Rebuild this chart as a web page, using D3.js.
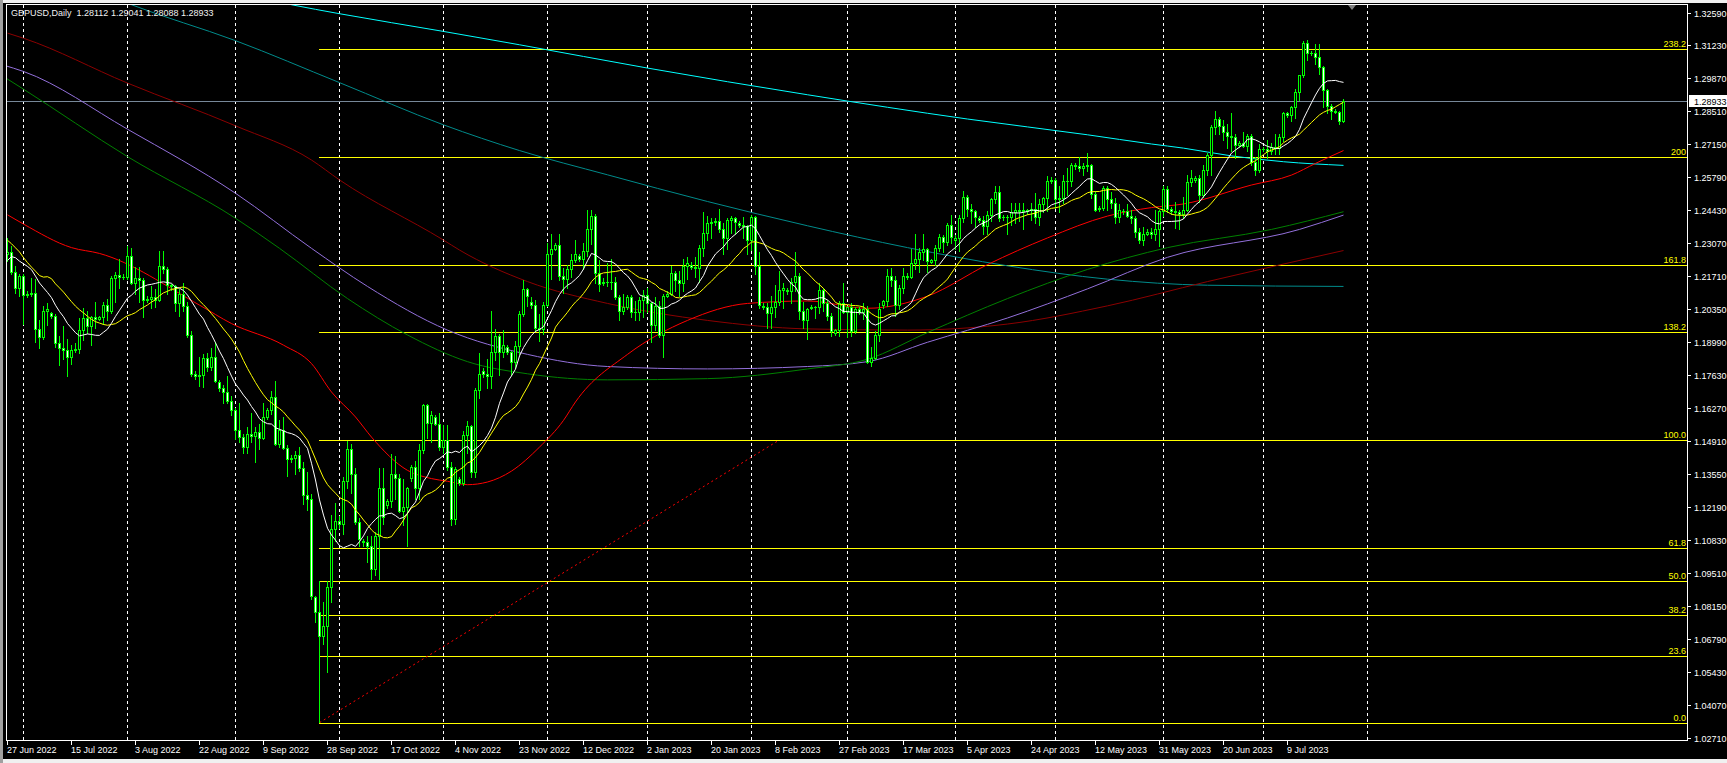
<!DOCTYPE html>
<html><head><meta charset="utf-8">
<script src="https://cdn.jsdelivr.net/npm/d3@7"></script>
<style>body{margin:0;background:#f0f0f0;overflow:hidden}svg{display:block}</style>
</head><body><svg id="c" width="1727" height="763"></svg>
<script>
// ---------------- DATA ----------------
const symbolTitle = "GBPUSD,Daily";
const lastQuote = ["1.28112","1.29041","1.28088","1.28933"];
const currentPrice = 1.28933;
const firstBarDate = "2022-06-27";           // broker has Sunday bars, no Saturday bars
const missingDays = ["2022-12-25","2023-01-01","2023-06-18"];
// daily candles [open, high, low, close]
const ohlc = [
[1.2265,1.2330,1.2235,1.2270],[1.2270,1.2295,1.2180,1.2190],[1.2190,1.2215,1.2105,1.2125],[1.2125,1.2180,1.2090,1.2175],[1.2175,1.2180,1.1975,1.2095],
[1.2095,1.2110,1.2085,1.2100],[1.2100,1.2165,1.2090,1.2105],[1.2105,1.2160,1.1900,1.1955],[1.1955,1.1990,1.1875,1.1920],[1.1920,1.2050,1.1915,1.2028],[1.2028,1.2060,1.1970,1.2035],
[1.2020,1.2025,1.2000,1.2008],[1.2008,1.2015,1.1880,1.1895],[1.1895,1.1925,1.1805,1.1878],[1.1878,1.1965,1.1830,1.1868],[1.1868,1.1915,1.1760,1.1840],[1.1840,1.1890,1.1810,1.1868],
[1.1868,1.1895,1.1860,1.1872],[1.1872,1.2000,1.1855,1.1950],[1.1950,1.2040,1.1910,1.2000],[1.2000,1.2030,1.1940,1.1968],[1.1968,1.2010,1.1887,1.2003],[1.2003,1.2065,1.1960,1.1995],
[1.1995,1.2010,1.1990,1.2002],[1.2002,1.2065,1.1975,1.2052],[1.2052,1.2080,1.1990,1.2030],[1.2030,1.2175,1.2020,1.2163],[1.2163,1.2190,1.2065,1.2177],[1.2177,1.2245,1.2125,1.2168],
[1.2168,1.2180,1.2160,1.2170],[1.2170,1.2295,1.2160,1.2255],[1.2255,1.2290,1.2140,1.2145],[1.2145,1.2210,1.2100,1.2165],[1.2165,1.2210,1.2065,1.2155],[1.2155,1.2165,1.2005,1.2075],
[1.2075,1.2090,1.2065,1.2078],[1.2078,1.2130,1.2040,1.2085],[1.2085,1.2120,1.2045,1.2075],[1.2075,1.2278,1.2070,1.2215],[1.2215,1.2275,1.2185,1.2200],[1.2200,1.2210,1.2100,1.2135],
[1.2135,1.2140,1.2115,1.2132],[1.2132,1.2135,1.2030,1.2060],[1.2060,1.2120,1.2010,1.2097],[1.2097,1.2145,1.2030,1.2050],[1.2050,1.2065,1.1920,1.1930],[1.1930,1.1945,1.1760,1.1768],
[1.1768,1.1780,1.1750,1.1760],[1.1760,1.1840,1.1720,1.1765],[1.1765,1.1850,1.1715,1.1835],[1.1835,1.1855,1.1780,1.1800],[1.1800,1.1875,1.1785,1.1840],[1.1840,1.1900,1.1735,1.1740],
[1.1735,1.1745,1.1700,1.1712],[1.1712,1.1725,1.1650,1.1695],[1.1695,1.1760,1.1650,1.1658],[1.1658,1.1680,1.1600,1.1622],[1.1622,1.1630,1.1500,1.1538],[1.1538,1.1648,1.1490,1.1510],
[1.1510,1.1520,1.1445,1.1470],[1.1470,1.1550,1.1445,1.1520],[1.1520,1.1610,1.1490,1.1515],[1.1515,1.1550,1.1405,1.1530],[1.1530,1.1565,1.1460,1.1505],[1.1505,1.1650,1.1500,1.1590],
[1.1590,1.1630,1.1585,1.1620],[1.1620,1.1700,1.1605,1.1675],[1.1675,1.1740,1.1475,1.1480],[1.1480,1.1580,1.1470,1.1540],[1.1540,1.1590,1.1460,1.1465],[1.1465,1.1475,1.1350,1.1420],
[1.1420,1.1435,1.1405,1.1422],[1.1422,1.1450,1.1355,1.1435],[1.1435,1.1470,1.1370,1.1380],[1.1380,1.1405,1.1235,1.1270],[1.1270,1.1365,1.1210,1.1255],[1.1255,1.1275,1.0840,1.0855],
[1.0850,1.0855,1.0745,1.0790],[1.0790,1.0918,1.0333,1.0690],[1.0690,1.0830,1.0658,1.0730],[1.0730,1.0918,1.0540,1.0890],[1.0890,1.1190,1.0830,1.1130],[1.1130,1.1236,1.1080,1.1165],
[1.1165,1.1185,1.1135,1.1150],[1.1150,1.1345,1.1110,1.1330],[1.1330,1.1495,1.1300,1.1460],[1.1460,1.1480,1.1280,1.1355],[1.1355,1.1380,1.1150,1.1160],[1.1160,1.1175,1.1060,1.1090],
[1.1080,1.1090,1.1060,1.1075],[1.1075,1.1100,1.0995,1.1060],[1.1060,1.1100,1.0925,1.0965],[1.0965,1.1120,1.0940,1.1100],[1.1100,1.1380,1.0925,1.1300],[1.1300,1.1380,1.1150,1.1180],
[1.1230,1.1255,1.1215,1.1245],[1.1245,1.1440,1.1220,1.1355],[1.1355,1.1430,1.1255,1.1342],[1.1342,1.1355,1.1200,1.1205],[1.1205,1.1335,1.1145,1.1220],[1.1220,1.1305,1.1060,1.1298],
[1.1340,1.1395,1.1330,1.1385],[1.1385,1.1410,1.1255,1.1300],[1.1300,1.1480,1.1255,1.1457],[1.1457,1.1645,1.1445,1.1640],[1.1640,1.1645,1.1505,1.1567],[1.1567,1.1615,1.1490,1.1599],
[1.1590,1.1600,1.1560,1.1565],[1.1565,1.1610,1.1455,1.1468],[1.1468,1.1560,1.1445,1.1496],[1.1496,1.1560,1.1375,1.1386],[1.1386,1.1405,1.1145,1.1173],[1.1173,1.1385,1.1150,1.1376],
[1.1335,1.1345,1.1310,1.1318],[1.1318,1.1535,1.1310,1.1516],[1.1516,1.1575,1.1445,1.1554],[1.1554,1.1560,1.1345,1.1365],[1.1365,1.1710,1.1345,1.1705],[1.1705,1.1855,1.1670,1.1770],
[1.1780,1.1795,1.1755,1.1770],[1.1770,1.1830,1.1710,1.1760],[1.1760,1.2030,1.1710,1.1860],[1.1860,1.1955,1.1825,1.1925],[1.1925,1.1935,1.1765,1.1860],[1.1860,1.1950,1.1840,1.1890],
[1.1880,1.1890,1.1850,1.1860],[1.1860,1.1865,1.1765,1.1820],[1.1820,1.1905,1.1795,1.1885],[1.1885,1.2030,1.1850,1.2015],[1.2015,1.2155,1.2010,1.2120],[1.2120,1.2125,1.2050,1.2090],
[1.2065,1.2085,1.2040,1.2055],[1.2055,1.2075,1.1945,1.1960],[1.1960,1.2015,1.1905,1.1955],[1.1955,1.2065,1.1935,1.2055],[1.2055,1.2310,1.2050,1.2265],[1.2265,1.2345,1.2160,1.2285],
[1.2285,1.2310,1.2280,1.2300],[1.2300,1.2345,1.2155,1.2175],[1.2175,1.2205,1.2105,1.2160],[1.2160,1.2220,1.2125,1.2200],[1.2200,1.2265,1.2170,1.2240],[1.2240,1.2320,1.2230,1.2265],
[1.2255,1.2265,1.2235,1.2245],[1.2245,1.2310,1.2200,1.2275],[1.2275,1.2445,1.2255,1.2365],[1.2365,1.2445,1.2305,1.2420],[1.2420,1.2430,1.2145,1.2185],[1.2185,1.2240,1.2110,1.2140],
[1.2145,1.2165,1.2135,1.2150],[1.2150,1.2225,1.2130,1.2150],[1.2150,1.2245,1.2120,1.2150],[1.2150,1.2170,1.2080,1.2085],[1.2085,1.2095,1.1990,1.2030],[1.2030,1.2100,1.2015,1.2045],
[1.2045,1.2095,1.2035,1.2085],[1.2085,1.2095,1.2005,1.2025],[1.2025,1.2070,1.1990,1.2025],[1.2025,1.2085,1.1990,1.2075],[1.2075,1.2115,1.2005,1.2095],
[1.2095,1.2125,1.2025,1.2060],[1.2060,1.2065,1.1900,1.1970],[1.1970,1.2085,1.1950,1.2050],[1.2050,1.2070,1.1920,1.1930],[1.1930,1.2100,1.1840,1.2090],
[1.2090,1.2110,1.2085,1.2100],[1.2100,1.2215,1.2095,1.2185],[1.2185,1.2195,1.2110,1.2155],[1.2155,1.2195,1.2090,1.2145],[1.2145,1.2245,1.2110,1.2215],[1.2215,1.2250,1.2160,1.2225],
[1.2220,1.2230,1.2200,1.2210],[1.2210,1.2250,1.2170,1.2205],[1.2205,1.2300,1.2150,1.2290],[1.2290,1.2435,1.2255,1.2350],[1.2350,1.2420,1.2320,1.2390],[1.2390,1.2410,1.2330,1.2395],
[1.2395,1.2410,1.2385,1.2400],[1.2400,1.2450,1.2355,1.2365],[1.2365,1.2390,1.2265,1.2330],[1.2330,1.2410,1.2285,1.2405],[1.2405,1.2420,1.2350,1.2410],[1.2410,1.2415,1.2345,1.2395],
[1.2390,1.2400,1.2375,1.2385],[1.2385,1.2415,1.2330,1.2380],[1.2380,1.2385,1.2265,1.2320],[1.2320,1.2425,1.2280,1.2415],[1.2415,1.2420,1.2180,1.2215],[1.2215,1.2270,1.2040,1.2055],
[1.2050,1.2060,1.2035,1.2045],[1.2045,1.2060,1.1960,1.2020],[1.2020,1.2090,1.1960,1.2045],[1.2045,1.2135,1.2005,1.2065],[1.2065,1.2195,1.2055,1.2115],[1.2115,1.2145,1.2040,1.2125],
[1.2115,1.2125,1.2100,1.2110],[1.2110,1.2165,1.2060,1.2150],[1.2150,1.2270,1.2110,1.2175],[1.2175,1.2185,1.1995,1.2030],[1.2030,1.2065,1.1960,1.1990],[1.1990,1.2040,1.1915,1.2035],
[1.2040,1.2055,1.2035,1.2045],[1.2045,1.2050,1.2000,1.2045],[1.2045,1.2145,1.2020,1.2115],[1.2115,1.2125,1.2030,1.2060],[1.2060,1.2075,1.1990,1.2010],[1.2010,1.2020,1.1925,1.1945],
[1.1940,1.1955,1.1930,1.1950],[1.1950,1.2070,1.1925,1.2060],[1.2060,1.2145,1.2020,1.2025],[1.2025,1.2050,1.1920,1.2045],[1.2045,1.2060,1.1925,1.1945],[1.1945,1.2045,1.1940,1.2035],
[1.2035,1.2045,1.2015,1.2025],[1.2025,1.2060,1.1995,1.2035],[1.2035,1.2050,1.1815,1.1820],[1.1820,1.1880,1.1802,1.1835],[1.1835,1.1945,1.1830,1.1930],[1.1930,1.2060,1.1905,1.2035],
[1.2055,1.2075,1.2040,1.2070],[1.2070,1.2200,1.2050,1.2175],[1.2175,1.2205,1.2130,1.2155],[1.2155,1.2175,1.2010,1.2055],[1.2055,1.2135,1.2035,1.2125],[1.2125,1.2205,1.2105,1.2175],
[1.2175,1.2185,1.2160,1.2170],[1.2170,1.2285,1.2165,1.2225],[1.2225,1.2345,1.2200,1.2245],[1.2245,1.2290,1.2190,1.2270],[1.2270,1.2345,1.2240,1.2285],[1.2285,1.2290,1.2190,1.2235],
[1.2230,1.2245,1.2225,1.2240],[1.2240,1.2300,1.2220,1.2290],[1.2290,1.2345,1.2275,1.2335],[1.2335,1.2340,1.2270,1.2315],[1.2315,1.2390,1.2300,1.2385],[1.2385,1.2425,1.2310,1.2335],
[1.2320,1.2340,1.2285,1.2330],[1.2330,1.2425,1.2275,1.2410],[1.2410,1.2525,1.2395,1.2500],[1.2500,1.2505,1.2420,1.2450],[1.2450,1.2470,1.2390,1.2440],[1.2440,1.2445,1.2375,1.2415],
[1.2410,1.2420,1.2395,1.2405],[1.2405,1.2420,1.2345,1.2380],[1.2380,1.2440,1.2345,1.2425],[1.2425,1.2495,1.2400,1.2490],[1.2490,1.2545,1.2475,1.2520],[1.2520,1.2545,1.2400,1.2410],
[1.2415,1.2425,1.2405,1.2415],[1.2415,1.2425,1.2345,1.2415],[1.2415,1.2475,1.2385,1.2435],[1.2435,1.2475,1.2390,1.2445],[1.2445,1.2475,1.2400,1.2440],[1.2440,1.2475,1.2365,1.2445],
[1.2440,1.2450,1.2430,1.2445],[1.2445,1.2475,1.2405,1.2450],[1.2450,1.2515,1.2390,1.2415],[1.2415,1.2490,1.2385,1.2470],[1.2470,1.2500,1.2435,1.2495],[1.2495,1.2585,1.2440,1.2565],
[1.2565,1.2580,1.2555,1.2570],[1.2570,1.2575,1.2455,1.2490],[1.2490,1.2545,1.2435,1.2495],[1.2495,1.2590,1.2475,1.2565],[1.2565,1.2620,1.2505,1.2565],[1.2565,1.2640,1.2545,1.2630],
[1.2630,1.2640,1.2615,1.2625],[1.2625,1.2665,1.2605,1.2620],[1.2620,1.2640,1.2590,1.2625],[1.2625,1.2680,1.2605,1.2630],[1.2630,1.2635,1.2495,1.2510],[1.2510,1.2525,1.2440,1.2445],
[1.2450,1.2460,1.2440,1.2455],[1.2455,1.2545,1.2445,1.2535],[1.2535,1.2545,1.2445,1.2490],[1.2490,1.2520,1.2455,1.2475],[1.2475,1.2495,1.2390,1.2415],[1.2415,1.2470,1.2395,1.2445],
[1.2440,1.2450,1.2430,1.2440],[1.2440,1.2470,1.2415,1.2420],[1.2420,1.2445,1.2390,1.2410],[1.2410,1.2420,1.2335,1.2355],[1.2355,1.2370,1.2308,1.2320],[1.2320,1.2375,1.2300,1.2345],
[1.2345,1.2365,1.2340,1.2355],[1.2355,1.2370,1.2330,1.2345],[1.2345,1.2445,1.2320,1.2365],[1.2365,1.2445,1.2295,1.2440],[1.2440,1.2545,1.2420,1.2530],[1.2530,1.2545,1.2435,1.2448],
[1.2448,1.2458,1.2430,1.2440],[1.2440,1.2480,1.2370,1.2435],[1.2435,1.2445,1.2365,1.2430],[1.2430,1.2500,1.2410,1.2445],[1.2445,1.2590,1.2440,1.2562],[1.2562,1.2610,1.2545,1.2575],
[1.2570,1.2585,1.2560,1.2575],[1.2575,1.2590,1.2480,1.2505],[1.2505,1.2630,1.2500,1.2610],[1.2610,1.2680,1.2590,1.2670],[1.2670,1.2795,1.2590,1.2789],[1.2789,1.2855,1.2760,1.2820],
[1.2820,1.2830,1.2760,1.2790],[1.2790,1.2815,1.2735,1.2765],[1.2765,1.2800,1.2700,1.2750],[1.2750,1.2845,1.2690,1.2745],[1.2745,1.2760,1.2660,1.2713],
[1.2713,1.2730,1.2705,1.2720],[1.2720,1.2765,1.2705,1.2710],[1.2710,1.2760,1.2690,1.2750],[1.2750,1.2760,1.2630,1.2642],[1.2642,1.2665,1.2590,1.2610],[1.2610,1.2715,1.2600,1.2695],
[1.2695,1.2705,1.2688,1.2698],[1.2698,1.2735,1.2660,1.2690],[1.2690,1.2720,1.2675,1.2705],[1.2705,1.2760,1.2675,1.2700],[1.2700,1.2760,1.2675,1.2747],[1.2747,1.2850,1.2730,1.2844],
[1.2844,1.2850,1.2830,1.2838],[1.2838,1.2875,1.2810,1.2869],[1.2869,1.2945,1.2825,1.2932],[1.2932,1.3002,1.2900,1.3000],[1.3000,1.3140,1.2995,1.3133],[1.3133,1.3146,1.3065,1.3094],
[1.3094,1.3100,1.3085,1.3091],[1.3091,1.3130,1.3045,1.3075],[1.3075,1.3130,1.3005,1.3036],[1.3036,1.3040,1.2870,1.2940],[1.2940,1.2945,1.2846,1.2874],[1.2874,1.2880,1.2819,1.2855],
[1.2855,1.2862,1.2845,1.2850],[1.2850,1.2855,1.2800,1.2811],[1.28112,1.29041,1.28088,1.28933]
];
// closes of the 20 bars before the first visible bar (needed by the moving averages)
const priorCloses = [1.2490,1.2480,1.2530,1.2585,1.2535,1.2490,1.2310,1.2300,1.2160,1.2000,
                     1.2180,1.2345,1.2225,1.2230,1.2265,1.2275,1.2260,1.2265,1.2265,1.2265];
const fastPeriod = 12, slowPeriod = 21;
// long moving averages: [bar number, price]
const maRed = [[0,1.2425],[4,1.2387],[16,1.2290],[23,1.2266],[48,1.2053],[56,1.1977],[69,1.1888],[76,1.1812],[81,1.1695],[87,1.1592],[91,1.1509],[100,1.1372],[106,1.1338],[110,1.1327],[115,1.1313],[120,1.1324],[126,1.1369],[133,1.1468],[139,1.1578],[142,1.1654],[155,1.1850],[170,1.1990],[185,1.2060],[200,1.2070],[215,1.2040],[230,1.2090],[245,1.2220],[260,1.2330],[275,1.2420],[286,1.2455],[294,1.2470],[311,1.2548],[321,1.2589],[327,1.2637],[334,1.2690]];
const maGreen = [[-1,1.2995],[4,1.2943],[30,1.2665],[57,1.2411],[68,1.2287],[85,1.2080],[100,1.1930],[115,1.1820],[130,1.1770],[150,1.1745],[175,1.1750],[200,1.1790],[215,1.1830],[230,1.1940],[250,1.2080],[270,1.2200],[290,1.2290],[316,1.2365],[334,1.2438]];
const maPurple = [[-1,1.3042],[4,1.3016],[30,1.2778],[57,1.2514],[76,1.2287],[90,1.2130],[110,1.1950],[130,1.1850],[150,1.1800],[175,1.1790],[200,1.1800],[215,1.1820],[230,1.1900],[250,1.2000],[270,1.2120],[290,1.2250],[323,1.2365],[334,1.2424]];
const maMaroon = [[0,1.3174],[4,1.3153],[30,1.2968],[57,1.2792],[76,1.2651],[83,1.2569],[109,1.2321],[113,1.2280],[130,1.2150],[150,1.2060],[175,1.1990],[200,1.1955],[225,1.1950],[250,1.1975],[275,1.2050],[300,1.2150],[334,1.2278]];
const maTeal = [[25,1.3330],[31,1.3291],[57,1.3143],[83,1.2970],[109,1.2796],[128,1.2690],[150,1.2590],[175,1.2480],[200,1.2380],[225,1.2290],[250,1.2215],[275,1.2160],[300,1.2135],[334,1.2130]];
const maCyan = [[60,1.3330],[71,1.3291],[83,1.3254],[109,1.3181],[128,1.3126],[160,1.3030],[200,1.2920],[240,1.2820],[270,1.2755],[286,1.2717],[294,1.2700],[306,1.2668],[319,1.2644],[334,1.2629]];
// Fibonacci retracement
const fibLow = 1.03322, fibHigh = 1.14975;
const fibStartDate = "2022-09-26", fibEndDate = "2023-02-09";
const fibLevels = [0, 23.6, 38.2, 50, 61.8, 100, 138.2, 161.8, 200, 238.2];
const fibLabels = ["0.0","23.6","38.2","50.0","61.8","100.0","138.2","161.8","200","238.2"];
// axes
const priceTicks = ["1.32590","1.31230","1.29870","1.28510","1.27150","1.25790","1.24430","1.23070","1.21710","1.20350","1.18990","1.17630","1.16270","1.14910","1.13550","1.12190","1.10830","1.09510","1.08150","1.06790","1.05430","1.04070","1.02710"];
const dateTicks = ["27 Jun 2022","15 Jul 2022","3 Aug 2022","22 Aug 2022","9 Sep 2022","28 Sep 2022","17 Oct 2022","4 Nov 2022","23 Nov 2022","12 Dec 2022","2 Jan 2023","20 Jan 2023","8 Feb 2023","27 Feb 2023","17 Mar 2023","5 Apr 2023","24 Apr 2023","12 May 2023","31 May 2023","20 Jun 2023","9 Jul 2023"];
const lastGridMonth = "2023-08";

// ---------------- CHART ----------------
const W = 1727, H = 763;
const P = {l: 6, t: 4, r: 1687, b: 740};
const FONT = "'Liberation Sans', Arial, sans-serif";
const svg = d3.select("#c");

// bar calendar
const iso = d3.utcFormat("%Y-%m-%d");
const dates = [];
for (let d = d3.utcParse("%Y-%m-%d")(firstBarDate); dates.length < ohlc.length + 60; d = d3.utcDay.offset(d, 1)) {
  const s = iso(d);
  if (d.getUTCDay() !== 6 && !missingDays.includes(s)) dates.push(s);
}
const barOf = s => dates.indexOf(s);

const x = d3.scaleLinear().domain([0, 420]).range([7.5, 1687.5]);
const y = d3.scaleLinear().domain([1.02710, 1.32590]).range([737.5, 12.5]);
const col = i => Math.floor(x(i));
const row = v => Math.round(y(v));

// background
svg.append("rect").attr("width", W).attr("height", H).attr("fill", "#f0f0f0");
svg.append("rect").attr("x", 0).attr("y", 0).attr("width", 3).attr("height", H).attr("fill", "#a0a0a0");
svg.append("rect").attr("x", 3).attr("y", 3).attr("width", W - 3).attr("height", 756).attr("fill", "#000");

svg.append("defs").append("clipPath").attr("id", "clip").append("rect")
  .attr("x", P.l + 1).attr("y", P.t + 1).attr("width", P.r - P.l - 1).attr("height", P.b - P.t - 1);
const g = svg.append("g").attr("clip-path", "url(#clip)");

// month grid
const grid = [];
for (let i = 1; i < dates.length; i++) {
  if (dates[i].slice(0, 7) !== dates[i - 1].slice(0, 7) && dates[i].slice(0, 7) <= lastGridMonth) grid.push(i);
}
g.selectAll("line.grid").data(grid).join("line").attr("class", "grid")
  .attr("x1", i => col(i) + 0.5).attr("x2", i => col(i) + 0.5).attr("y1", P.t + 1).attr("y2", P.b)
  .attr("stroke", "#fff").attr("stroke-dasharray", "3,3").attr("shape-rendering", "crispEdges");

// fibonacci
const fibPrice = lv => fibLow + lv / 100 * (fibHigh - fibLow);
const fibX0 = col(barOf(fibStartDate));
g.selectAll("line.fib").data(fibLevels).join("line").attr("class", "fib")
  .attr("x1", fibX0).attr("x2", P.r).attr("y1", lv => row(fibPrice(lv)) + 0.5).attr("y2", lv => row(fibPrice(lv)) + 0.5)
  .attr("stroke", "#ffff00").attr("shape-rendering", "crispEdges");
g.append("line").attr("x1", x(barOf(fibStartDate))).attr("y1", y(fibLow))
  .attr("x2", x(barOf(fibEndDate))).attr("y2", y(fibHigh))
  .attr("stroke", "#ff0000").attr("stroke-dasharray", "2,3").attr("stroke-width", 1);
g.selectAll("text.fib").data(fibLevels).join("text").attr("class", "fib")
  .attr("x", P.r - 1).attr("y", lv => row(fibPrice(lv)) - 2).attr("text-anchor", "end")
  .attr("font-family", FONT).attr("font-size", "9px").attr("fill", "#ffff00")
  .text((lv, i) => fibLabels[i]);

// current price line
g.append("line").attr("x1", P.l).attr("x2", P.r).attr("y1", row(currentPrice) + 0.5).attr("y2", row(currentPrice) + 0.5)
  .attr("stroke", "#778899").attr("shape-rendering", "crispEdges");

// long moving averages
const smooth = d3.line().x(d => x(d[0])).y(d => y(d[1])).curve(d3.curveMonotoneX);
[[maCyan, "#00ffff"], [maTeal, "#008b8b"], [maMaroon, "#8b0000"], [maPurple, "#9370db"], [maGreen, "#008000"], [maRed, "#ff0000"]]
  .forEach(([pts, c]) => g.append("path").attr("d", smooth(pts)).attr("fill", "none").attr("stroke", c).attr("stroke-width", 1));

// candles
const cg = g.append("g").attr("shape-rendering", "crispEdges");
ohlc.forEach(([o, h, l, c], i) => {
  const cx = col(i);
  cg.append("rect").attr("x", cx).attr("y", row(h)).attr("width", 1).attr("height", row(l) - row(h) + 1).attr("fill", "#00ff00");
  const top = Math.min(row(o), row(c)), bot = Math.max(row(o), row(c));
  cg.append("rect").attr("x", cx - 1).attr("y", top).attr("width", 3).attr("height", bot - top + 1).attr("fill", "#00ff00");
  if (bot - top >= 2) cg.append("rect").attr("x", cx).attr("y", top + 1).attr("width", 1).attr("height", bot - top - 1)
    .attr("fill", c >= o ? "#000" : "#fff");
});

// fast moving averages (simple MA of closes)
const closes = priorCloses.concat(ohlc.map(d => d[3]));
const sma = p => ohlc.map((d, i) => [i, d3.mean(closes.slice(i + priorCloses.length - p + 1, i + priorCloses.length + 1))]);
const straight = d3.line().x(d => x(d[0])).y(d => y(d[1]));
g.append("path").attr("d", straight(sma(slowPeriod))).attr("fill", "none").attr("stroke", "#ffff00");
g.append("path").attr("d", straight(sma(fastPeriod))).attr("fill", "none").attr("stroke", "#ffffff");

// frame
const fr = svg.append("g").attr("stroke", "#fff").attr("shape-rendering", "crispEdges");
fr.append("line").attr("x1", P.l).attr("x2", P.r + 1).attr("y1", P.t + 0.5).attr("y2", P.t + 0.5);
fr.append("line").attr("x1", P.l + 0.5).attr("x2", P.l + 0.5).attr("y1", P.t).attr("y2", P.b + 1);
fr.append("line").attr("x1", P.r + 0.5).attr("x2", P.r + 0.5).attr("y1", P.t).attr("y2", P.b + 1);
fr.append("line").attr("x1", P.l).attr("x2", P.r + 1).attr("y1", P.b + 0.5).attr("y2", P.b + 0.5);

// price axis
const pa = svg.append("g");
pa.selectAll("line").data(priceTicks).join("line")
  .attr("x1", P.r + 1).attr("x2", P.r + 4).attr("y1", v => row(+v) + 0.5).attr("y2", v => row(+v) + 0.5)
  .attr("stroke", "#fff").attr("shape-rendering", "crispEdges");
pa.selectAll("text").data(priceTicks).join("text")
  .attr("x", P.r + 7).attr("y", v => row(+v) + 4).attr("font-family", FONT).attr("font-size", "9px").attr("fill", "#fff")
  .text(v => v);
// current price box
svg.append("rect").attr("x", P.r + 2).attr("y", row(currentPrice) - 6).attr("width", W - P.r - 2).attr("height", 12).attr("fill", "#fff");
svg.append("text").attr("x", P.r + 7).attr("y", row(currentPrice) + 4).attr("font-family", FONT).attr("font-size", "9px")
  .attr("fill", "#000").text(currentPrice.toFixed(5));

// date axis
const parseLabel = d3.utcParse("%d %b %Y");
const da = svg.append("g");
dateTicks.forEach(lbl => {
  const i = barOf(iso(parseLabel(lbl)));
  da.append("line").attr("x1", col(i) + 0.5).attr("x2", col(i) + 0.5).attr("y1", P.b + 1).attr("y2", P.b + 5)
    .attr("stroke", "#fff").attr("shape-rendering", "crispEdges");
  da.append("text").attr("x", col(i)).attr("y", P.b + 13).attr("font-family", FONT).attr("font-size", "9px")
    .attr("fill", "#fff").text(lbl);
});

// title
svg.append("text").attr("x", 11).attr("y", 16).attr("font-family", FONT).attr("font-size", "9px").attr("fill", "#f0f0f0")
  .style("white-space", "pre").text(symbolTitle + "  " + lastQuote.join(" "));

// chart-shift marker
const sx = col(ohlc.length + 1) + 1;
svg.append("path").attr("d", `M${sx - 4},${P.t + 1}L${sx + 4},${P.t + 1}L${sx},${P.t + 6}Z`).attr("fill", "#808080");
</script></body></html>
